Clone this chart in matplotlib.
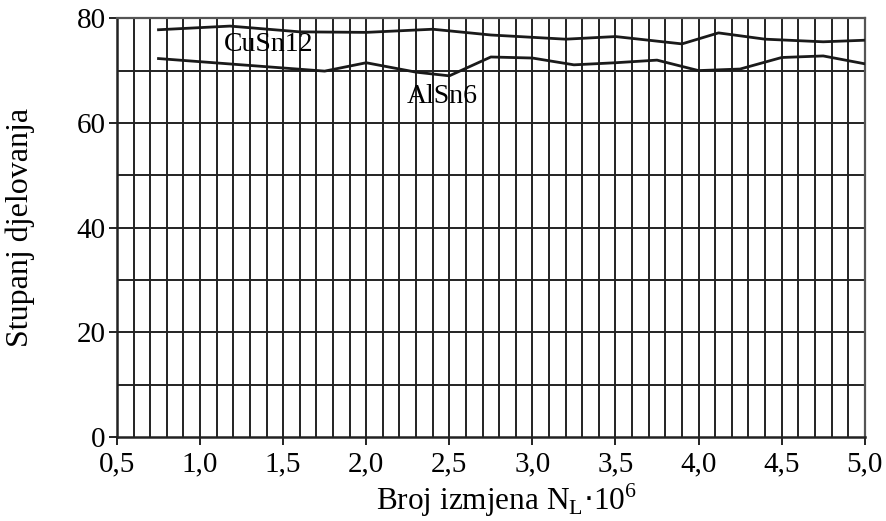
import matplotlib.pyplot as plt
import numpy as np

plt.rcParams['font.family'] = ['Liberation Serif', 'DejaVu Serif']

# data
cu_x = [0.75, 1.18, 1.6, 2.0, 2.4, 2.75, 3.2, 3.5, 3.9, 4.12, 4.4, 4.75, 5.0]
cu_y = [77.8, 78.5, 77.4, 77.3, 77.9, 76.8, 76.0, 76.5, 75.1, 77.2, 76.0, 75.5, 75.8]

al_x = [0.75, 1.75, 2.0, 2.3, 2.5, 2.75, 3.0, 3.25, 3.5, 3.75, 4.0, 4.25, 4.5, 4.75, 5.0]
al_y = [72.3, 69.9, 71.5, 69.7, 69.0, 72.6, 72.4, 71.1, 71.5, 72.0, 70.0, 70.3, 72.5, 72.8, 71.3]

xticks = [0.5, 1.0, 1.5, 2.0, 2.5, 3.0, 3.5, 4.0, 4.5, 5.0]
xtick_labels = ["0,5", "1,0", "1,5", "2,0", "2,5", "3,0", "3,5", "4,0", "4,5", "5,0"]
yticks = [0, 20, 40, 60, 80]

fig = plt.figure(figsize=(8.86, 5.21), dpi=100)
ax = fig.add_axes([0.132, 0.161, 0.844, 0.804])

# grid lines every 0.1 on x and every 10 on y
for gx in np.arange(0.6, 5.0, 0.1):
    ax.axvline(gx, color='#222222', lw=1.4, zorder=1)
for gy in range(10, 80, 10):
    ax.axhline(gy, color='#222222', lw=1.4, zorder=1)

ax.plot(cu_x, cu_y, color='#1a1a1a', lw=2.0, zorder=3)
ax.plot(al_x, al_y, color='#1a1a1a', lw=2.0, zorder=3)

ax.text(1.41, 75.0, "CuSn12", fontsize=20, ha='center', va='center', zorder=4)
ax.text(2.46, 65.0, "AlSn6", fontsize=20, ha='center', va='center', zorder=4)

ax.set_xlim(0.5, 5.0)
ax.set_ylim(0, 80)
ax.set_xticks(xticks)
ax.set_xticklabels(xtick_labels)
ax.set_yticks(yticks)
ax.tick_params(axis='both', labelsize=21, direction='out', length=6, width=1.4, color='#222222')
ax.tick_params(axis='x', pad=4)
ax.tick_params(axis='y', pad=2)

for side in ['left', 'bottom']:
    ax.spines[side].set_linewidth(1.8)
    ax.spines[side].set_color('#222222')
for side in ['top', 'right']:
    ax.spines[side].set_linewidth(1.6)
    ax.spines[side].set_color('#555555')

ax.set_xlabel(r"Broj izmjena N$_\mathregular{L}$$\cdot$10$^\mathregular{6}$", fontsize=22.5)
ax.xaxis.set_label_coords(0.521, -0.105)
ax.set_ylabel("Stupanj djelovanja", fontsize=23, labelpad=30)

fig.savefig("out.png", dpi=100)
